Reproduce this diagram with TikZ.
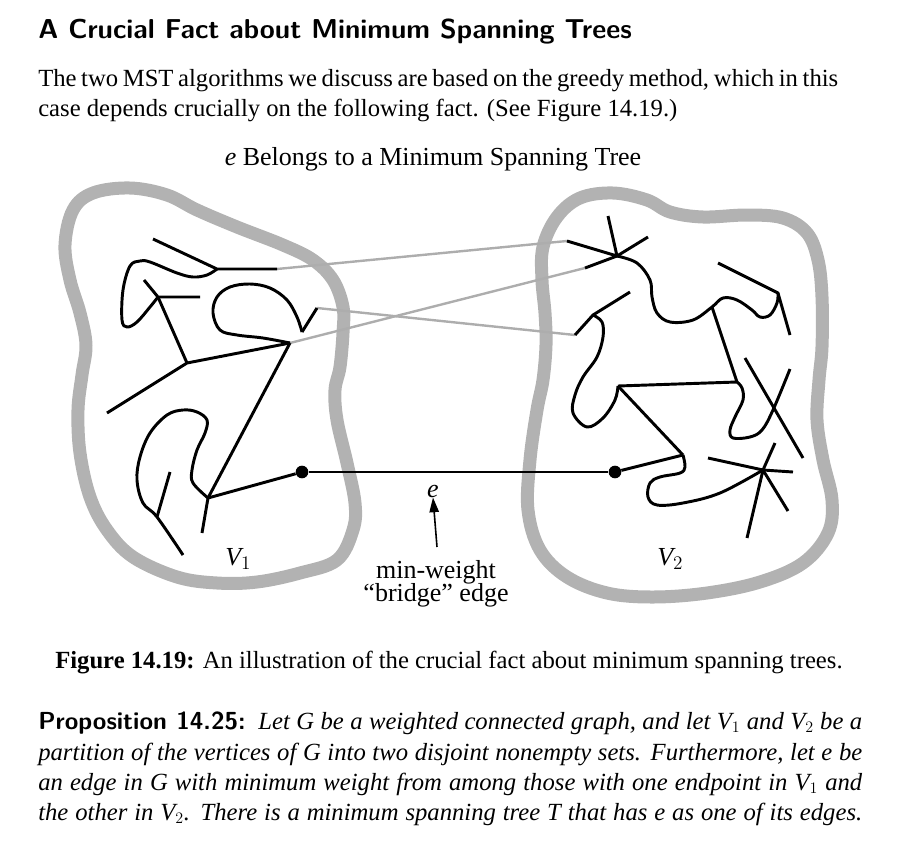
\documentclass[tikz,border=0pt]{standalone}
\usepackage{fontspec}
\setmainfont{Liberation Serif}
\usetikzlibrary{arrows.meta}
\definecolor{regiongray}{gray}{0.70}
\definecolor{crossgray}{gray}{0.68}
\newcommand\bodysize{\fontsize{18.5}{22.5}\selectfont}
\newcommand\figsize{\fontsize{19.5}{23}\selectfont}
\begin{document}
\begin{tikzpicture}[x=0.75pt,y=-0.75pt,
  region/.style={draw=regiongray, line width=9.75pt, line join=round},
  tree/.style={line width=2.2pt, line join=round},
  crossedge/.style={draw=crossgray, line width=1.8pt},
  dot/.style={circle, fill=black, inner sep=0pt, minimum size=9.5pt},
  txt/.style={inner sep=0pt, anchor=base west, font=\bodysize},
  figtxt/.style={inner sep=0pt, font=\figsize},
]
\useasboundingbox (0,0) rectangle (904,850);

% ---------- heading and introduction ----------
\node[inner sep=0pt, anchor=base west, font=\fontsize{20.5}{24}\selectfont\sffamily\bfseries]
  (head) at (38,38) {A Crucial Fact about Minimum Spanning Trees};
\node[txt] (intro1) at (38,86)
  {\hbox to 600pt{The two MST algorithms we discuss are based on the greedy method, which in this}};
\node[txt] (intro2) at (38,116)
  {case depends crucially on the following fact. (See Figure 14.19.)};

\node[figtxt, anchor=base] (title) at (433,165) {\textit{e} Belongs to a Minimum Spanning Tree};

% ---------- the two vertex sets ----------
\draw[region] plot[smooth cycle, tension=0.6] coordinates {
  (130,188) (167,195) (197,210) (237,227) (283,245) (313,260) (333,280)
  (343,307) (343,333) (340,367) (335,390) (337,420) (347,463) (355,503)
  (353,530) (337,560) (300,573) (257,582) (217,583) (177,577) (133,557)
  (107,530) (90,497) (80,453) (78,410) (82,375) (86,345) (80,313)
  (70,280) (65,245) (73,210) (93,193)};
\draw[region] plot[smooth cycle, tension=0.6] coordinates {
  (613,193) (647,200) (670,212) (703,217) (747,215) (783,218) (807,233)
  (818,260) (822,297) (822,347) (819,380) (817,420) (823,460) (832,500)
  (828,533) (803,563) (760,582) (707,593) (653,597) (607,593) (567,577)
  (540,550) (528,510) (530,460) (537,410) (543,380) (546,345) (545,313)
  (542,280) (543,247) (557,217) (580,198)};

% ---------- vertices of the tree in V1 ----------
\coordinate (a1) at (153,239);
\coordinate (a2) at (217,269);
\coordinate (a3) at (277,269);
\coordinate (a4) at (158,297);
\coordinate (a5) at (144,280);
\coordinate (a6) at (200,297);
\coordinate (a7) at (187,363);
\coordinate (a8) at (290,343);
\coordinate (a9) at (107,413);
\coordinate (a10) at (302,332);
\coordinate (a11) at (317,308);
\coordinate (a12) at (208,498);
\coordinate (a13) at (202,533);
\coordinate (a14) at (183,555);
\coordinate (a15) at (157,517);
\coordinate (a16) at (170,472);

% ---------- vertices of the tree in V2 ----------
\coordinate (b1) at (617,256);
\coordinate (b2) at (567,241);
\coordinate (b3) at (608,216);
\coordinate (b4) at (648,237);
\coordinate (b5) at (585,268);
\coordinate (b6) at (712,307);
\coordinate (b7) at (575,335);
\coordinate (b8) at (778,293);
\coordinate (b9) at (718,263);
\coordinate (b10) at (790,335);
\coordinate (b11) at (737,382);
\coordinate (b12) at (618,386);
\coordinate (b13) at (790,369);
\coordinate (b14) at (745,358);
\coordinate (b15) at (803,458);
\coordinate (b16) at (630,292);
\coordinate (b17) at (593,315);
\coordinate (b18) at (683,455);
\coordinate (b19) at (763,470);
\coordinate (c1) at (708,458);
\coordinate (c2) at (793,472);
\coordinate (c3) at (788,511);
\coordinate (c4) at (747,538);
\coordinate (c5) at (775,443);

% ---------- non-tree edges between the sets ----------
\draw[crossedge] (a3) -- (b2);
\draw[crossedge] (a11) -- (b7);
\draw[crossedge] (a8) -- (b5);

% ---------- tree in V1 ----------
\draw[tree] (a1) -- (a2) -- (a3);
\draw[tree] plot[smooth, tension=0.6] coordinates {(a2) (207,275) (193,277) (177,273)
  (150,262) (140,261) (130,266) (123,290) (122,320) (127,327) (137,322) (150,307) (a4)};
\draw[tree] (a5) -- (a4) -- (a6);
\draw[tree] (a4) -- (a7);
\draw[tree] (a9) -- (a7) -- (a8);
\draw[tree] plot[smooth, tension=0.6] coordinates {(a8) (263,338) (237,335) (220,330)
  (213,313) (217,297) (230,287) (250,284) (270,288) (287,300) (297,317) (a10)};
\draw[tree] (a10) -- (a11);
\draw[tree] (a8) -- (a12) -- (a13);
\draw[tree] plot[smooth, tension=0.6] coordinates {(a12) (193,483) (192,470) (197,450)
  (205,433) (207,420) (197,412) (183,410) (167,415) (150,433) (140,457) (137,480)
  (143,503) (a15) (a14)};
\draw[tree] (a15) -- (a16);

% ---------- tree in V2 ----------
\draw[tree] (b2) -- (b1) -- (b3);
\draw[tree] (b4) -- (b1) -- (b5);
\draw[tree] plot[smooth, tension=0.6] coordinates {(b1) (637,263) (650,280) (652,297)
  (657,313) (670,322) (693,320) (b6) (723,298) (737,300) (752,310) (760,317)
  (770,315) (777,303) (b8)};
\draw[tree] (b9) -- (b8) -- (b10);
\draw[tree] (b6) -- (b11) -- (b12);
\draw[tree] plot[smooth, tension=0.6] coordinates {(b11) (742,388) (743,400) (735,417)
  (730,430) (733,438) (750,437) (762,430) (773,410) (b13)};
\draw[tree] (b14) -- (b15);
\draw[tree] (b16) -- (b17) -- (b7);
\draw[tree] plot[smooth, tension=0.6] coordinates {(b17) (602,322) (603,337) (597,357)
  (583,377) (575,395) (573,413) (587,427) (603,418) (615,400) (b12)};
\draw[tree] (b12) -- (b18);
\draw[tree] plot[smooth, tension=0.6] coordinates {(b18) (685,467) (680,473) (660,477)
  (650,483) (648,497) (657,505) (683,503) (720,493) (b19)};
\draw[tree] (c1) -- (b19) -- (c2);
\draw[tree] (c3) -- (b19) -- (c4);
\draw[tree] (b19) -- (c5);

% ---------- the bridge edge e ----------
\node[dot] (u) at (302,472) {};
\node[dot] (v) at (615,472) {};
\draw[tree] (a12) -- (u);
\draw[tree] (v) -- (b18);
\draw[tree] (u) -- (v);

\node[figtxt, anchor=base] (elabel) at (433,497) {\textit{e}};
\node[inner sep=0pt, anchor=south, align=center,
      font={\fontsize{19.5}{17}\selectfont\lineskiplimit=-20pt}]
  (bridge) at (436,607) {min-weight\\``bridge'' edge};
\coordinate (tail) at (437,547);
\draw[line width=1.2pt, -{Triangle[length=11pt,width=7pt]}] (tail) -- (elabel.south);

\node[figtxt, anchor=base west] (v1) at (225,565) {$\mathit{V}_1$};
\node[figtxt, anchor=base west] (v2) at (657,565) {$\mathit{V}_2$};

% ---------- caption ----------
\node[txt] (caption) at (55,668)
  {\textbf{Figure 14.19:} An illustration of the crucial fact about minimum spanning trees.};

% ---------- proposition ----------
\node[txt] (prop1) at (38,729)
  {\hbox to 618pt{{\sffamily\bfseries Proposition 14.25:}\ \ \itshape Let $\mathit{G}$ be a weighted connected graph, and let $\mathit{V}_1$ and $\mathit{V}_2$ be a}};
\node[txt] (prop2) at (38,760)
  {\hbox to 618pt{\itshape partition of the vertices of $\mathit{G}$ into two disjoint nonempty sets. Furthermore, let $\mathit{e}$ be}};
\node[txt] (prop3) at (38,790)
  {\hbox to 618pt{\itshape an edge in $\mathit{G}$ with minimum weight from among those with one endpoint in $\mathit{V}_1$ and}};
\node[txt] (prop4) at (38,820)
  {\hbox to 618pt{\itshape the other in $\mathit{V}_2$. There is a minimum spanning tree $\mathit{T}$ that has $\mathit{e}$ as one of its edges.}};
\end{tikzpicture}
\end{document}
